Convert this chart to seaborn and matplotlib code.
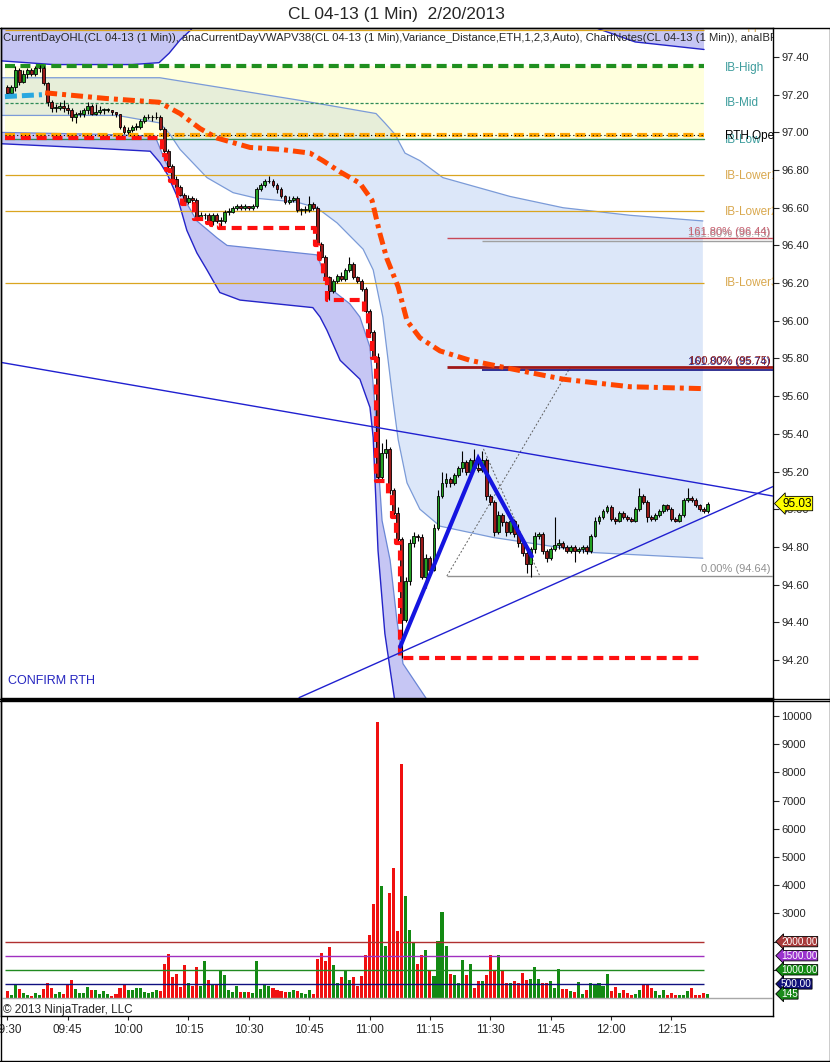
import numpy as np
import pandas as pd
import matplotlib
matplotlib.use("Agg")
import matplotlib.pyplot as plt
from matplotlib.lines import Line2D
import seaborn as sns

# ---------------- data ----------------
opens = [97.24, 97.21, 97.24, 97.33, 97.27, 97.31, 97.33, 97.31, 97.34, 97.34,
         97.26, 97.16, 97.13, 97.13, 97.14, 97.13, 97.12, 97.08, 97.10, 97.10,
         97.12, 97.14, 97.10, 97.11, 97.12, 97.12, 97.12, 97.11, 97.10, 97.03,
         97.00, 97.01, 97.03, 97.03, 97.06, 97.08, 97.08, 97.08, 97.08, 97.02,
         96.90, 96.82, 96.75, 96.71, 96.67, 96.63, 96.65, 96.64, 96.55, 96.56,
         96.56, 96.53, 96.56, 96.53, 96.53, 96.58, 96.58, 96.60, 96.61, 96.60,
         96.61, 96.60, 96.61, 96.70, 96.72, 96.74, 96.74, 96.72, 96.70, 96.66,
         96.63, 96.64, 96.65, 96.59, 96.59, 96.59, 96.62, 96.60, 96.41, 96.34,
         96.23, 96.16, 96.21, 96.24, 96.22, 96.27, 96.30, 96.23, 96.21, 96.17,
         96.05, 95.94, 95.81, 95.17, 95.30, 95.32, 95.10, 94.98, 94.84, 94.41,
         94.62, 94.82, 94.86, 94.85, 94.64, 94.74, 94.68, 94.90, 95.07, 95.14,
         95.16, 95.14, 95.18, 95.22, 95.25, 95.20, 95.26, 95.22, 95.21, 95.26,
         95.07, 95.04, 94.88, 94.97, 94.93, 94.88, 94.94, 94.87, 94.82, 94.77,
         94.71, 94.79, 94.86, 94.87, 94.78, 94.74, 94.79, 94.81, 94.82, 94.80,
         94.78, 94.80, 94.78, 94.79, 94.80, 94.78, 94.86, 94.94, 94.96, 94.99,
         95.01, 94.95, 94.94, 94.98, 94.96, 94.95, 94.94, 95.00, 95.07, 95.04,
         94.96, 94.95, 94.97, 94.99, 95.02, 95.00, 94.95, 94.94, 94.97, 95.05,
         95.06, 95.05, 95.02, 95.00, 94.99]
closes = [97.21, 97.24, 97.33, 97.27, 97.31, 97.33, 97.31, 97.34, 97.34, 97.26,
          97.16, 97.13, 97.13, 97.14, 97.13, 97.12, 97.08, 97.10, 97.10, 97.12,
          97.14, 97.10, 97.11, 97.12, 97.12, 97.12, 97.11, 97.10, 97.03, 97.00,
          97.01, 97.03, 97.03, 97.06, 97.08, 97.08, 97.08, 97.08, 97.02, 96.90,
          96.82, 96.75, 96.71, 96.67, 96.63, 96.65, 96.64, 96.55, 96.56, 96.56,
          96.53, 96.56, 96.53, 96.53, 96.58, 96.58, 96.60, 96.61, 96.60, 96.61,
          96.60, 96.61, 96.70, 96.72, 96.74, 96.74, 96.72, 96.70, 96.66, 96.63,
          96.64, 96.65, 96.59, 96.59, 96.59, 96.62, 96.60, 96.41, 96.34, 96.23,
          96.16, 96.21, 96.24, 96.22, 96.27, 96.30, 96.23, 96.21, 96.17, 96.05,
          95.94, 95.81, 95.17, 95.30, 95.32, 95.10, 94.98, 94.84, 94.41, 94.62,
          94.82, 94.86, 94.85, 94.64, 94.74, 94.68, 94.90, 95.07, 95.14, 95.16,
          95.14, 95.18, 95.22, 95.25, 95.20, 95.26, 95.22, 95.21, 95.26, 95.07,
          95.04, 94.88, 94.97, 94.93, 94.88, 94.94, 94.87, 94.82, 94.77, 94.71,
          94.79, 94.86, 94.87, 94.78, 94.74, 94.79, 94.81, 94.82, 94.80, 94.78,
          94.80, 94.78, 94.79, 94.80, 94.78, 94.86, 94.94, 94.96, 94.99, 95.01,
          94.95, 94.94, 94.98, 94.96, 94.95, 94.94, 95.00, 95.07, 95.04, 94.96,
          94.95, 94.97, 94.99, 95.02, 95.00, 94.95, 94.94, 94.97, 95.05, 95.06,
          95.05, 95.02, 95.00, 94.99, 95.03]
highs = [97.25, 97.25, 97.35, 97.34, 97.33, 97.34, 97.34, 97.35, 97.36, 97.35,
         97.27, 97.17, 97.15, 97.16, 97.17, 97.15, 97.13, 97.11, 97.12, 97.13,
         97.16, 97.15, 97.15, 97.14, 97.13, 97.13, 97.12, 97.11, 97.10, 97.04,
         97.03, 97.04, 97.05, 97.07, 97.09, 97.10, 97.09, 97.11, 97.09, 97.03,
         96.91, 96.83, 96.77, 96.72, 96.68, 96.67, 96.66, 96.65, 96.58, 96.57,
         96.57, 96.57, 96.57, 96.55, 96.59, 96.60, 96.61, 96.62, 96.62, 96.62,
         96.61, 96.62, 96.71, 96.73, 96.75, 96.77, 96.75, 96.73, 96.71, 96.67,
         96.66, 96.66, 96.66, 96.60, 96.61, 96.66, 96.63, 96.61, 96.42, 96.35,
         96.24, 96.22, 96.25, 96.26, 96.28, 96.34, 96.31, 96.24, 96.22, 96.18,
         96.06, 95.95, 95.83, 95.35, 95.37, 95.33, 95.11, 95.01, 94.85, 94.64,
         94.84, 94.88, 94.87, 94.87, 94.76, 94.75, 94.92, 95.10, 95.20, 95.19,
         95.17, 95.19, 95.23, 95.31, 95.26, 95.27, 95.32, 95.27, 95.31, 95.27,
         95.08, 95.05, 94.99, 94.98, 94.94, 94.95, 94.95, 94.92, 94.84, 94.78,
         94.80, 94.88, 94.88, 94.88, 94.79, 94.80, 94.96, 94.84, 94.83, 94.81,
         94.81, 94.81, 94.80, 94.81, 94.81, 94.87, 94.96, 94.97, 95.00, 95.02,
         95.02, 94.96, 94.99, 94.99, 94.97, 94.96, 95.01, 95.11, 95.08, 95.05,
         94.97, 94.98, 95.00, 95.03, 95.03, 95.01, 94.96, 94.98, 95.06, 95.11,
         95.07, 95.06, 95.03, 95.01, 95.04]
lows = [97.19, 97.20, 97.22, 97.25, 97.26, 97.29, 97.30, 97.30, 97.32, 97.25,
        97.14, 97.11, 97.11, 97.12, 97.11, 97.10, 97.06, 97.05, 97.08, 97.08,
        97.10, 97.09, 97.09, 97.10, 97.10, 97.11, 97.09, 97.08, 97.02, 96.99,
        96.99, 97.00, 97.01, 97.02, 97.05, 97.07, 97.06, 97.07, 97.01, 96.88,
        96.80, 96.74, 96.70, 96.66, 96.62, 96.62, 96.62, 96.54, 96.54, 96.54,
        96.52, 96.51, 96.52, 96.49, 96.52, 96.56, 96.57, 96.59, 96.59, 96.59,
        96.59, 96.59, 96.60, 96.69, 96.71, 96.73, 96.71, 96.68, 96.65, 96.62,
        96.62, 96.63, 96.58, 96.56, 96.57, 96.58, 96.59, 96.40, 96.33, 96.22,
        96.11, 96.15, 96.20, 96.21, 96.21, 96.26, 96.22, 96.20, 96.16, 96.04,
        95.92, 95.80, 95.15, 95.16, 95.27, 95.08, 94.96, 94.82, 94.21, 94.40,
        94.60, 94.80, 94.83, 94.63, 94.58, 94.67, 94.67, 94.89, 95.06, 95.12,
        95.12, 95.13, 95.17, 95.20, 95.18, 95.19, 95.21, 95.20, 95.20, 95.05,
        95.02, 94.86, 94.87, 94.91, 94.86, 94.87, 94.85, 94.80, 94.75, 94.66,
        94.64, 94.77, 94.84, 94.76, 94.72, 94.73, 94.78, 94.79, 94.79, 94.77,
        94.77, 94.72, 94.77, 94.77, 94.76, 94.77, 94.85, 94.92, 94.95, 94.98,
        94.94, 94.92, 94.93, 94.95, 94.94, 94.93, 94.93, 94.99, 95.03, 94.93,
        94.94, 94.94, 94.96, 94.98, 94.99, 94.94, 94.93, 94.93, 94.96, 95.04,
        95.04, 95.01, 94.99, 94.98, 94.98]
volumes = [250, 100, 460, 330, 165, 100, 85, 165, 100, 320,
           520, 340, 140, 200, 140, 460, 640, 320, 165, 180,
           380, 280, 280, 140, 250, 140, 85, 140, 370, 480,
           280, 280, 355, 355, 210, 165, 210, 280, 260, 1200,
           1560, 760, 850, 400, 1170, 520, 425, 1100, 440, 1310,
           640, 460, 460, 980, 815, 280, 210, 425, 210, 200,
           225, 190, 1310, 330, 450, 425, 340, 280, 250, 225,
           200, 280, 260, 190, 130, 280, 140, 1380, 1590, 1320,
           1820, 1170, 520, 760, 990, 640, 760, 440, 780, 1520,
           2230, 3330, 9800, 3970, 1840, 3730, 4620, 2390, 8300, 3620,
           2420, 1960, 1200, 1520, 1700, 990, 780, 2010, 3060, 1840,
           850, 810, 520, 1360, 800, 1190, 350, 600, 600, 820,
           1540, 1000, 1540, 950, 530, 530, 600, 530, 870, 650,
           690, 1100, 660, 520, 520, 600, 360, 1030, 310, 330,
           260, 230, 570, 130, 270, 530, 480, 530, 420, 850,
           250, 380, 180, 270, 170, 110, 150, 270, 460, 460,
           360, 240, 100, 270, 100, 170, 100, 110, 100, 250,
           350, 120, 100, 170, 145]

time_labels = ["09:30", "09:45", "10:00", "10:15", "10:30", "10:45",
               "11:00", "11:15", "11:30", "11:45", "12:00", "12:15"]
time_ticks = [0, 15, 30, 45, 60, 75, 90, 105, 120, 135, 150, 165]
price_ticks = [94.20, 94.40, 94.60, 94.80, 95.00, 95.20, 95.40, 95.60, 95.80,
               96.00, 96.20, 96.40, 96.60, 96.80, 97.00, 97.20, 97.40]
vol_ticks = [1000, 2000, 3000, 4000, 5000, 6000, 7000, 8000, 9000, 10000]

# opening-range levels
ib_upper = 97.545
ib_high = 97.35
ib_mid = 97.155
ib_low = 96.963
rth_open = 96.985
ib_lowers = [96.775, 96.585, 96.20]
day_low_before = 96.97

# VWAP and its bands (bar index, price)
vwap_bar = [9.4, 24.5, 37.7, 42.9, 47.9, 52.1, 60.3, 67.8, 75.2, 78.4, 82.7, 87.6,
            90.6, 92.6, 94.3, 97.1, 99.3, 102.5, 107.5, 115.0, 121.7, 138.1, 154.7, 172.8]
vwap_px = [97.21, 97.18, 97.16, 97.10, 97.02, 96.97, 96.92, 96.91, 96.89, 96.85, 96.79, 96.73,
           96.64, 96.46, 96.33, 96.18, 96.00, 95.91, 95.84, 95.79, 95.76, 95.69, 95.65, 95.64]
vwap_up_bar = [-0.6, 8.6]
vwap_up_px = [97.19, 97.20]
sd1_hi_bar = [-1.8, 37.9, 72.7, 91.6, 93.8, 96.3, 98.8, 102.5, 108.2, 124.9, 138.1, 154.7, 172.8]
sd1_hi_px = [97.29, 97.29, 97.17, 97.10, 97.05, 96.99, 96.89, 96.85, 96.76, 96.66, 96.60, 96.56, 96.53]
sd1_lo_bar = [-1.8, 27.3, 37.9, 40.4, 42.9, 49.6, 56.1, 62.0, 71.9, 76.9, 81.9, 88.4, 90.9,
              93.3, 95.8, 97.1, 99.3, 102.5, 107.5, 120.7, 145.5, 172.8]
sd1_lo_px = [97.09, 97.09, 97.05, 96.99, 96.91, 96.76, 96.68, 96.65, 96.63, 96.60, 96.52, 96.38, 96.27,
             96.02, 95.58, 95.37, 95.14, 95.00, 94.91, 94.85, 94.77, 94.74]
sd2_lo_bar = [-1.8, 23.0, 36.7, 39.2, 43.6, 47.1, 52.1, 54.6, 76.9, 78.4, 80.9, 85.1, 87.6,
              90.1, 91.4, 92.1, 93.1, 95.1, 96.8, 98.3, 105.5]
sd2_lo_px = [97.00, 96.99, 96.98, 96.85, 96.66, 96.53, 96.44, 96.40, 96.35, 96.27, 96.16, 96.09, 96.02,
             95.86, 95.53, 95.26, 94.94, 94.73, 94.41, 94.18, 93.95]
sd3_lo_bar = [-1.8, 18.1, 35.5, 37.9, 39.7, 42.2, 44.6, 47.1, 49.6, 52.8, 57.8, 75.9, 77.7,
              79.4, 82.7, 87.6, 90.1, 90.9, 92.1, 93.8, 95.1, 96.5]
sd3_lo_px = [96.94, 96.92, 96.90, 96.84, 96.78, 96.66, 96.48, 96.36, 96.27, 96.15, 96.11, 96.07, 96.02,
             95.95, 95.79, 95.69, 95.54, 95.38, 94.78, 94.34, 94.15, 93.95]
sd2_hi_bar = [-1.8, 11.4, 31.0, 37.7, 40.2, 42.9, 45.4, 47.9, 72.7, 137.3, 146.8, 156.0, 173.1]
sd2_hi_px = [97.38, 97.36, 97.36, 97.37, 97.42, 97.49, 97.54, 97.60, 97.76, 97.73, 97.55, 97.48, 97.44]
sd3_hi_bar = [-1.8, 173.1]
sd3_hi_px = [97.90, 97.90]

# drawings
trend_dn_bar = [-1.8, 190.2]
trend_dn_px = [95.78, 95.07]
trend_up_bar = [72.5, 190.2]
trend_up_px = [94.00, 95.12]
zigzag_bar = [97.6, 117.0, 130.3]
zigzag_px = [94.27, 95.27, 94.75]
fib_leg1_bar = [109.2, 139.8]
fib_leg1_px = [94.645, 95.75]
fib_leg2_bar = [118.3, 132.3]
fib_leg2_px = [95.32, 94.645]
fib_start = [109.2, 117.9]
fib_levels_a = [94.645, 95.755, 96.44]
fib_levels_b = [95.74, 96.425]
vol_levels = [2000, 1500, 1000, 500]

# ---------------- figure ----------------
sns.set_style("white")
plt.rcParams["font.family"] = ["Liberation Sans", "DejaVu Sans"]

W, H = 830, 1062
fig = plt.figure(figsize=(W / 100, H / 100), dpi=100)
ax = fig.add_axes([1 / W, 1 - 698 / H, 772 / W, 670 / H])
axv = fig.add_axes([1 / W, 1 - 1016 / H, 772 / W, 316 / H])

bars = np.arange(len(closes))
o = np.array(opens)
c = np.array(closes)
hi = np.array(highs)
lo = np.array(lows)
up = c >= o
x_end = 173.2

# bands
ax.fill(np.r_[sd1_hi_bar, sd1_lo_bar[::-1]], np.r_[sd1_hi_px, sd1_lo_px[::-1]],
        color="#dce7f9", lw=0, zorder=0.5)
ax.fill_between([-0.6, x_end], ib_low, ib_high, color="#ffff99", alpha=0.33, lw=0, zorder=0.7)
ax.fill(np.r_[sd2_lo_bar, sd3_lo_bar[::-1]], np.r_[sd2_lo_px, sd3_lo_px[::-1]],
        color="#c6c6f4", lw=0, zorder=0.8)
ax.fill(np.r_[sd2_hi_bar, sd3_hi_bar[::-1]], np.r_[sd2_hi_px, sd3_hi_px[::-1]],
        color="#c6c6f4", lw=0, zorder=0.8)
ax.plot(sd1_hi_bar, sd1_hi_px, color="#7b9bd8", lw=0.9, zorder=1)
ax.plot(sd1_lo_bar, sd1_lo_px, color="#7b9bd8", lw=0.9, zorder=1)
ax.plot(sd2_lo_bar, sd2_lo_px, color="#6a86d6", lw=0.9, zorder=1)
ax.plot(sd3_lo_bar, sd3_lo_px, color="#2424c8", lw=1.0, zorder=1)
ax.plot(sd2_hi_bar, sd2_hi_px, color="#2424c8", lw=1.0, zorder=1)

# opening range levels
ax.hlines(ib_upper, -0.6, x_end, color="#daa520", lw=0.9, zorder=2)
ax.hlines(ib_lowers, -0.6, x_end, color="#daa520", lw=0.9, zorder=2)
ax.plot([-0.6, x_end], [ib_high, ib_high], color="#1f8f1f", lw=3, dashes=(2.4, 1.3), zorder=2.5)
ax.plot([-0.6, x_end], [ib_mid, ib_mid], color="#2e8b57", lw=0.9, dashes=(2.5, 1.5), zorder=2)
ax.plot([-0.6, x_end], [ib_low, ib_low], color="#2e8b57", lw=1.0, zorder=2)
ax.plot([-0.6, x_end], [rth_open, rth_open], color="#ffa500", lw=3, dashes=(2.4, 1.3), zorder=2.5)
ax.plot([-0.6, x_end], [rth_open, rth_open], color="black", lw=0.8, dashes=(1, 2.5), zorder=2.6)

# fib drawing
ax.plot(fib_leg1_bar, fib_leg1_px, color="#606060", lw=0.7, dashes=(2, 2), zorder=3)
ax.plot(fib_leg2_bar, fib_leg2_px, color="#606060", lw=0.7, dashes=(2, 2), zorder=3)
ax.hlines(fib_levels_a[0], fib_start[0], 191, color="#909090", lw=1.0, zorder=3)
ax.hlines(fib_levels_a[1], fib_start[0], 191, color="#a01818", lw=2.0, zorder=3)
ax.hlines(fib_levels_a[2], fib_start[0], 191, color="#c84858", lw=1.0, zorder=3)
ax.hlines(fib_levels_b[0], fib_start[1], 191, color="#101080", lw=1.2, zorder=3)
ax.hlines(fib_levels_b[1], fib_start[1], 191, color="#a0a0a0", lw=1.0, zorder=3)

# candles
ax.vlines(bars, lo, hi, color="black", lw=0.8, zorder=4)
ax.bar(bars, np.maximum(np.abs(c - o), 0.004), bottom=np.minimum(o, c), width=0.72,
       color=np.where(up, "#22a022", "#9a1a1a"), edgecolor="black", linewidth=0.6, zorder=5)

# running day low (CurrentDayOHL)
day_low = np.minimum.accumulate(np.r_[day_low_before, lo])[1:]
step_x = np.r_[-0.6, bars[1:-1] - 0.5, x_end]
step_y = np.r_[day_low[:-1], day_low[-2]]
ax.plot(step_x, step_y, drawstyle="steps-post", color="#ff1010", lw=3,
        dashes=(2.4, 1.4), zorder=6)

# VWAP
ax.plot(vwap_bar, vwap_px, color="#ff4500", lw=3.6, dashes=(2.4, 1.0, 0.8, 1.0), zorder=6)
ax.plot(vwap_up_bar, vwap_up_px, color="#29a8e0", lw=3.6, dashes=(2.4, 1.0), zorder=6)

# trend lines and pattern
ax.plot(trend_dn_bar, trend_dn_px, color="#2020d0", lw=1.0, zorder=7)
ax.plot(trend_up_bar, trend_up_px, color="#2020d0", lw=1.0, zorder=7)
ax.plot(zigzag_bar, zigzag_px, color="#1515e0", lw=3.0, solid_joinstyle="miter", zorder=7)

ax.set_xlim(-1.57, 190.23)
ax.set_ylim(93.998, 97.554)

# labels on price panel
lab_x = 178.3
for txt, yv, col in [("IB-High", 97.342, "#3c9c9c"), ("IB-Mid", 97.156, "#3c9c9c"),
                     ("IB-Low", 96.957, "#3c9c9c"), ("RTH Open", 96.983, "black"),
                     ("IB-Lower1", 96.768, "#d9a84e"), ("IB-Lower2", 96.577, "#d9a84e"),
                     ("IB-Lower3", 96.200, "#d9a84e"), ("IB-Upper1", 97.565, "#d9a84e")]:
    ax.text(lab_x, yv, txt, color=col, fontsize=8.5, ha="left", va="center", clip_on=True, zorder=8)

fx = 189.6
ax.text(fx, 96.462, "161.80% (96.43)", color="#a8a8a8", fontsize=8, ha="right", va="center", zorder=8)
ax.text(fx, 96.472, "161.80% (96.44)", color="#c86070", fontsize=8, ha="right", va="center", zorder=8)
ax.text(fx, 95.782, "161.80% (95.74)", color="#303090", fontsize=8, ha="right", va="center", zorder=8)
ax.text(fx, 95.786, "100.00% (95.75)", color="#8b1a1a", fontsize=8, ha="right", va="center", zorder=8)
ax.text(fx, 94.683, "0.00% (94.64)", color="#909090", fontsize=8, ha="right", va="center", zorder=8)
ax.text(0.2, 94.088, "CONFIRM RTH", color="#2525c0", fontsize=9, ha="left", va="center", zorder=8)
ax.text(0.003, 0.985,
        "CurrentDayOHL(CL 04-13 (1 Min)), anaCurrentDayVWAPV38(CL 04-13 (1 Min),Variance_Distance,"
        "ETH,1,2,3,Auto), ChartNotes(CL 04-13 (1 Min)), anaIBRange(CL 04-13 (1 Min))",
        transform=ax.transAxes, fontsize=8.1, ha="left", va="center", clip_on=True, zorder=9)

ax.yaxis.tick_right()
ax.set_yticks(price_ticks)
ax.set_yticklabels([f"{v:.2f}" for v in price_ticks])
ax.tick_params(axis="y", right=True, direction="out", length=4, width=0.8, pad=2, labelsize=8)
ax.set_xticks([])
for s in ax.spines.values():
    s.set_color("black")
    s.set_linewidth(1)

ax.text(1.0 + 9 / 772, 95.03, "95.03", transform=ax.get_yaxis_transform(), ha="left", va="center",
        fontsize=8.5, color="black", clip_on=False, zorder=10,
        bbox=dict(boxstyle="larrow,pad=0.1", fc="#ffff00", ec="black", lw=0.6))

# ---------------- volume panel ----------------
vol_df = pd.DataFrame({"bar": bars, "volume": volumes, "dir": np.where(up, "up", "down")})
sns.barplot(data=vol_df, x="bar", y="volume", hue="dir",
            palette={"up": "#138a13", "down": "#f01010"}, native_scale=True, dodge=False,
            width=0.76, saturation=1, legend=False, errorbar=None, linewidth=0, ax=axv)
for lv, col in zip(vol_levels, ["#b03030", "#a030c0", "#208a20", "#101080"]):
    axv.hlines(lv, -0.6, x_end, color=col, lw=1.0, zorder=3)
axv.axhline(0, color="#a8a8a8", lw=1.0, zorder=3)
axv.set_xlim(-1.57, 190.23)
axv.set_ylim(-638, 10567)
axv.set_xlabel("")
axv.set_ylabel("")
axv.yaxis.tick_right()
axv.set_yticks(vol_ticks)
axv.set_yticklabels([str(v) for v in vol_ticks])
axv.set_xticks(time_ticks)
axv.set_xticklabels(time_labels)
axv.tick_params(axis="y", right=True, left=False, direction="out", length=4, width=0.8, pad=2, labelsize=8)
axv.tick_params(axis="x", bottom=True, direction="out", length=3, width=0.8, pad=3, labelsize=8.5)
for s in axv.spines.values():
    s.set_color("black")
    s.set_linewidth(1)

for lv, txt, face in [(2000, "2000.00", "#a83a3a"), (1500, "1500.00", "#9a32cd"),
                      (1000, "1000.00", "#138a13"), (500, "500.00", "#10107a"),
                      (145, "145", "#1a8a1a")]:
    axv.text(1.0 + 8 / 772, lv, txt, transform=axv.get_yaxis_transform(), ha="left", va="center",
             fontsize=7.2, color="white", clip_on=False, zorder=10,
             bbox=dict(boxstyle="larrow,pad=0.02", fc=face, ec="black", lw=0.6))
axv.text(2 / 772, 0.02, "\u00a9 2013 NinjaTrader, LLC", transform=axv.transAxes,
         fontsize=8.5, ha="left", va="center", zorder=9)

# title and frame
fig.text(396 / W, 1 - 14 / H, "CL 04-13 (1 Min)  2/20/2013", ha="center", va="center", fontsize=12.5)


def frame_line(x0, y0, x1, y1):
    fig.add_artist(Line2D([x0 / W, x1 / W], [1 - y0 / H, 1 - y1 / H], color="black", lw=1.0,
                          transform=fig.transFigure))


frame_line(0, 27.5, W, 27.5)
frame_line(0, 698.5, W, 698.5)
frame_line(0, 700.5, W, 700.5)
frame_line(0, 1061, W, 1061)
frame_line(0.5, 27.5, 0.5, 1061)
frame_line(W - 0.5, 27.5, W - 0.5, 1061)

fig.savefig("out.png", dpi=100)
